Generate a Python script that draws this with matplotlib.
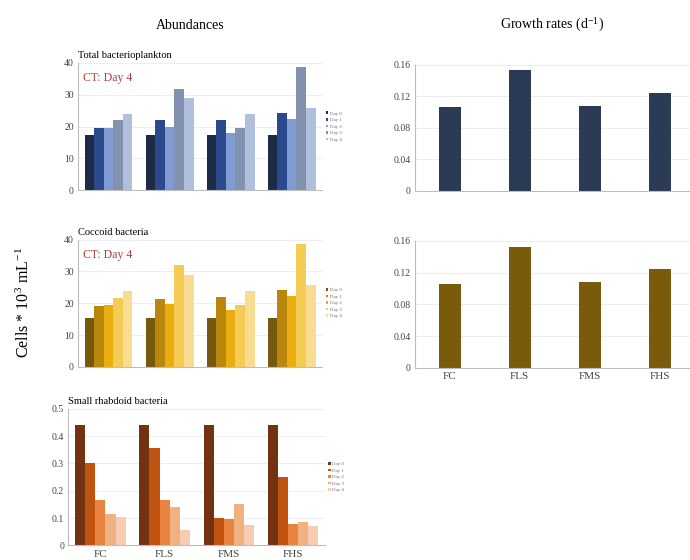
"""
Abundances and growth rates of bacterioplankton groups per treatment.
"""

import matplotlib.pyplot as plt
import numpy as np

plt.rcParams["font.family"] = ["Liberation Serif", "DejaVu Serif"]
plt.rcParams["mathtext.fontset"] = "stix"

# Treatments and sampling days
treatments = ["FC", "FLS", "FMS", "FHS"]
days = ["Day 0", "Day 1", "Day 2", "Day 3", "Day 4"]

# Abundances (Cells * 10^3 mL^-1), one row per day, one column per treatment
total_bact = [
    [17.4, 17.4, 17.4, 17.4],
    [19.7, 21.9, 22.1, 24.4],
    [19.7, 19.8, 18.1, 22.3],
    [21.9, 31.7, 19.7, 38.8],
    [24.0, 29.1, 24.0, 25.8],
]
coccoid = [
    [15.5, 15.5, 15.5, 15.5],
    [19.2, 21.2, 22.0, 24.3],
    [19.6, 19.8, 18.0, 22.3],
    [21.6, 31.9, 19.5, 38.7],
    [23.7, 29.0, 23.8, 25.6],
]
rhabdoid = [
    [0.44, 0.44, 0.44, 0.44],
    [0.30, 0.355, 0.10, 0.25],
    [0.165, 0.165, 0.095, 0.08],
    [0.115, 0.14, 0.15, 0.085],
    [0.105, 0.055, 0.075, 0.07],
]

# Growth rates (d^-1)
growth_total = [0.106, 0.153, 0.108, 0.124]
growth_coccoid = [0.105, 0.152, 0.108, 0.124]

blues = ["#1e2b45", "#2b4a8e", "#7f9bd2", "#8292ae", "#b0c0dc"]
golds = ["#76590f", "#b8870c", "#e9ad10", "#f4cc55", "#f7dc92"]
oranges = ["#733211", "#c0530f", "#e8843e", "#f1b281", "#f6cdb0"]

GRID = "#ebebeb"
SPINE = "#bdbdbd"
TICK_COLOR = "#444444"


def style_axes(ax, ylim, yticks, yticklabels, show_x=False):
    """Applies the common look to one panel."""
    ax.set_ylim(*ylim)
    ax.set_yticks(yticks)
    ax.set_yticklabels(yticklabels)
    for side in ("top", "right"):
        ax.spines[side].set_visible(False)
    for side in ("left", "bottom"):
        ax.spines[side].set_color(SPINE)
        ax.spines[side].set_linewidth(0.8)
    ax.yaxis.grid(True, color=GRID, linewidth=0.6)
    ax.set_axisbelow(True)
    ax.tick_params(axis="both", length=0, labelsize=7, colors=TICK_COLOR, pad=3)
    ax.set_xticks(np.arange(len(treatments)))
    if show_x:
        ax.set_xticklabels(treatments, fontsize=8)
    else:
        ax.set_xticklabels([])


def grouped_bars(ax, values, colors, ylim, yticks, yticklabels, title, ct=False,
                 show_x=False):
    """Draws the day-by-day grouped bars for one bacterial group."""
    x = np.arange(len(treatments))
    width = 0.157
    for i, (row, color) in enumerate(zip(values, colors)):
        ax.bar(x + (i - 2) * width, row, width, color=color, label=days[i])
    ax.set_xlim(-0.5, 3.5)
    style_axes(ax, ylim, yticks, yticklabels, show_x)
    ax.text(0.0, 1.02, title, transform=ax.transAxes, fontsize=7.5,
            ha="left", va="bottom")
    if ct:
        ax.text(0.02, 0.93, "CT: Day 4", transform=ax.transAxes, fontsize=8.5,
                color="#b0403c", ha="left", va="top")
    leg = ax.legend(loc="center left", bbox_to_anchor=(1.0, 0.5), fontsize=3.5,
                    frameon=False, handlelength=0.5, handleheight=0.5,
                    handletextpad=0.3, labelspacing=0.5, borderaxespad=0.3)
    for text in leg.get_texts():
        text.set_color("#666666")


def growth_bars(ax, values, color, show_x=False):
    """Draws the growth rate bars for one bacterial group."""
    x = np.arange(len(treatments))
    ax.bar(x, values, 0.32, color=color)
    ax.set_xlim(-0.5, 3.43)
    style_axes(ax, (0, 0.16), [0, 0.04, 0.08, 0.12, 0.16],
               ["0", "0.04", "0.08", "0.12", "0.16"], show_x)


def main():
    """Entry point of the script."""
    fig = plt.figure(figsize=(6.9, 5.6), dpi=100)

    ax_tot = fig.add_axes([0.113, 0.660, 0.354, 0.228])
    ax_coc = fig.add_axes([0.113, 0.345, 0.354, 0.227])
    ax_rha = fig.add_axes([0.099, 0.026, 0.372, 0.244])
    ax_gtot = fig.add_axes([0.601, 0.659, 0.399, 0.225])
    ax_gcoc = fig.add_axes([0.601, 0.343, 0.399, 0.227])

    ab_ticks = [0, 10, 20, 30, 40]
    ab_labels = ["0", "10", "20", "30", "40"]
    grouped_bars(ax_tot, total_bact, blues, (0, 40), ab_ticks, ab_labels,
                 "Total bacterioplankton", ct=True)
    grouped_bars(ax_coc, coccoid, golds, (0, 40), ab_ticks, ab_labels,
                 "Coccoid bacteria", ct=True)
    grouped_bars(ax_rha, rhabdoid, oranges, (0, 0.5),
                 [0, 0.1, 0.2, 0.3, 0.4, 0.5],
                 ["0", "0.1", "0.2", "0.3", "0.4", "0.5"],
                 "Small rhabdoid bacteria", show_x=True)

    growth_bars(ax_gtot, growth_total, "#2b3a55")
    growth_bars(ax_gcoc, growth_coccoid, "#7a5a0b", show_x=True)

    fig.text(0.275, 0.955, "Abundances", fontsize=10, ha="center", va="center")
    fig.text(0.80, 0.955, r"Growth rates (d$^{\mathregular{-1}}$)", fontsize=10,
             ha="center", va="center")
    fig.text(0.035, 0.46, r"Cells * 10$^{\mathregular{3}}$ mL$^{\mathregular{-1}}$",
             fontsize=11.5, rotation=90, ha="center", va="center")

    fig.savefig("out.png", dpi=100)


if __name__ == "__main__":
    main()
